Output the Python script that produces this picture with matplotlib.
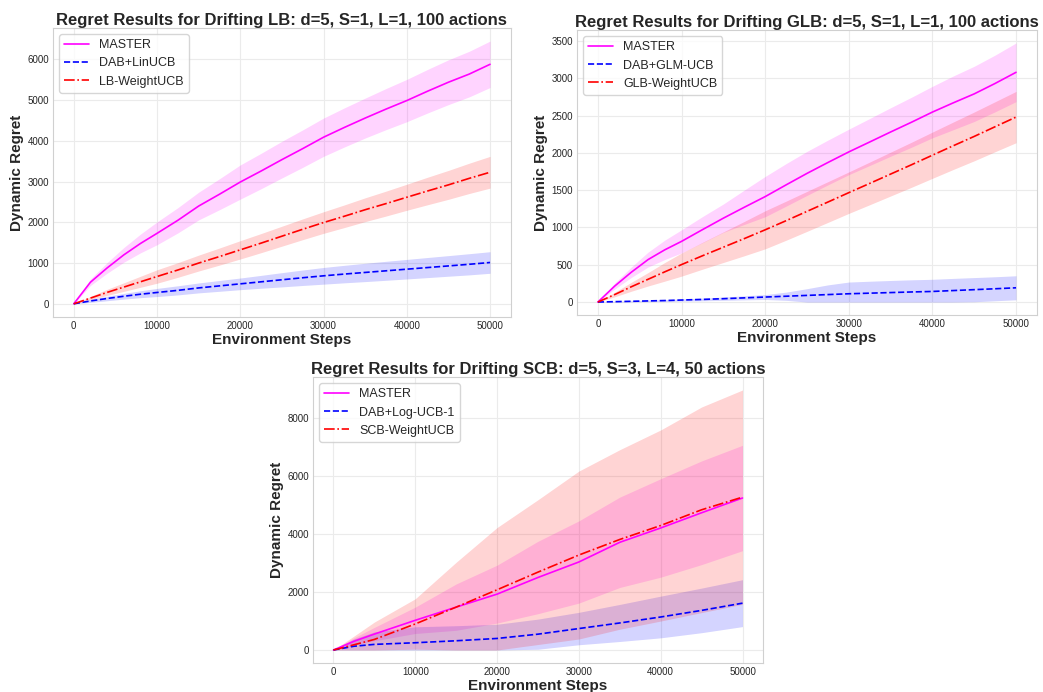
import matplotlib
matplotlib.use('Agg')
import matplotlib.pyplot as plt
import numpy as np
import seaborn as sns

sns.set_style('whitegrid')
plt.rcParams['font.family'] = ['Liberation Sans', 'DejaVu Sans']

# ---- data ----
steps = [0, 2000, 4000, 6000, 8000, 10000, 12500, 15000, 17500, 20000, 22500, 25000,
         27500, 30000, 32500, 35000, 37500, 40000, 42500, 45000, 47500, 50000]

# Drifting LB
lb_master = [0, 530, 880, 1200, 1480, 1730, 2050, 2400, 2690, 2990, 3260, 3540,
             3810, 4090, 4330, 4560, 4780, 4990, 5220, 5440, 5640, 5880]
lb_master_std = [0, 80, 130, 180, 230, 280, 310, 340, 380, 420, 435, 450,
                 460, 470, 480, 490, 505, 520, 535, 550, 560, 570]
lb_dab = [0, 70, 130, 185, 235, 278, 330, 390, 440, 490, 540, 590,
          640, 687, 730, 770, 810, 850, 890, 930, 970, 1014]
lb_dab_std = [0, 35, 55, 70, 85, 100, 112, 122, 133, 143, 158, 175,
              190, 205, 215, 225, 233, 240, 247, 253, 260, 265]
lb_weight = [0, 140, 280, 410, 540, 670, 830, 1000, 1160, 1325, 1490, 1660,
             1830, 1995, 2150, 2310, 2460, 2616, 2770, 2920, 3080, 3230]
lb_weight_std = [0, 40, 75, 105, 135, 165, 180, 195, 210, 225, 235, 245,
                 255, 265, 278, 292, 306, 320, 338, 355, 372, 390]

# Drifting GLB
glb_master = [0, 213, 400, 569, 700, 813, 970, 1124, 1270, 1413, 1570, 1724,
              1870, 2012, 2145, 2279, 2410, 2546, 2670, 2790, 2930, 3079]
glb_master_std = [0, 40, 70, 100, 130, 155, 175, 190, 230, 270, 285, 295,
                  300, 305, 315, 325, 335, 345, 360, 370, 380, 393]
glb_dab = [0, 5, 10, 15, 20, 27, 35, 45, 56, 67, 78, 89,
           100, 111, 119, 127, 135, 142, 154, 166, 178, 191]
glb_dab_std = [0, 5, 8, 10, 12, 14, 18, 22, 27, 33, 55, 90,
               130, 157, 160, 162, 163, 163, 163, 162, 161, 161]
glb_weight = [0, 100, 205, 305, 405, 502, 620, 735, 850, 968, 1090, 1215,
              1340, 1466, 1590, 1715, 1840, 1968, 2095, 2220, 2350, 2479]
glb_weight_std = [0, 30, 60, 90, 125, 155, 180, 205, 230, 255, 262, 268,
                  273, 278, 286, 294, 302, 310, 318, 327, 335, 344]

# Drifting SCB
scb_steps = [0, 2500, 5000, 10000, 15000, 20000, 25000, 30000, 35000, 40000, 45000, 50000]
scb_master = [0, 300, 550, 1026, 1481, 1930, 2505, 3040, 3720, 4215, 4740, 5250]
scb_master_std = [0, 120, 230, 455, 800, 1000, 1250, 1420, 1560, 1700, 1790, 1820]
scb_dab = [0, 130, 194, 251, 319, 399, 547, 741, 934, 1140, 1368, 1618]
scb_dab_std = [0, 250, 430, 550, 520, 490, 520, 560, 640, 720, 770, 810]
scb_weight = [0, 180, 365, 900, 1481, 2080, 2690, 3280, 3818, 4300, 4843, 5280]
scb_weight_std = [0, 300, 600, 870, 1550, 2150, 2500, 2900, 3100, 3300, 3550, 3700]

panels = [
    ('Regret Results for Drifting LB: d=5, S=1, L=1, 100 actions', steps,
     [('MASTER', lb_master, lb_master_std),
      ('DAB+LinUCB', lb_dab, lb_dab_std),
      ('LB-WeightUCB', lb_weight, lb_weight_std)],
     [0.0508, 0.542, 0.439, 0.4176]),
    ('Regret Results for Drifting GLB: d=5, S=1, L=1, 100 actions', steps,
     [('MASTER', glb_master, glb_master_std),
      ('DAB+GLM-UCB', glb_dab, glb_dab_std),
      ('GLB-WeightUCB', glb_weight, glb_weight_std)],
     [0.5532, 0.5448, 0.441, 0.4118]),
    ('Regret Results for Drifting SCB: d=5, S=3, L=4, 50 actions', scb_steps,
     [('MASTER', scb_master, scb_master_std),
      ('DAB+Log-UCB-1', scb_dab, scb_dab_std),
      ('SCB-WeightUCB', scb_weight, scb_weight_std)],
     [0.3001, 0.0419, 0.4314, 0.4133]),
]

colors = ['#ff00ff', 'blue', 'red']
styles = ['-', '--', '-.']

fig = plt.figure(figsize=(10.43, 6.92), dpi=100)

for title, xs, series, pos in panels:
    ax = fig.add_axes(pos)
    x = np.array(xs)
    for (name, mean, std), c, ls in zip(series, colors, styles):
        mean = np.array(mean, dtype=float)
        std = np.array(std, dtype=float)
        ax.plot(x, mean, color=c, linestyle=ls, linewidth=1.2, label=name)
        ax.fill_between(x, np.clip(mean - std, 0, None), mean + std,
                        color=c, alpha=0.17, linewidth=0)
    ax.set_title(title, fontsize=12, fontweight='bold', pad=2)
    ax.set_xlabel('Environment Steps', fontsize=11, fontweight='bold', labelpad=1.5)
    ax.set_ylabel('Dynamic Regret', fontsize=11, fontweight='bold', labelpad=2.5)
    ax.set_xticks([0, 10000, 20000, 30000, 40000, 50000])
    ax.tick_params(labelsize=7, length=0, pad=3)
    ax.grid(color='#ebebeb', linewidth=0.8)
    for s in ax.spines.values():
        s.set_color('#d0d0d0')
    ax.legend(loc='upper left', fontsize=9, frameon=True)

fig.savefig('out.png', dpi=100)
